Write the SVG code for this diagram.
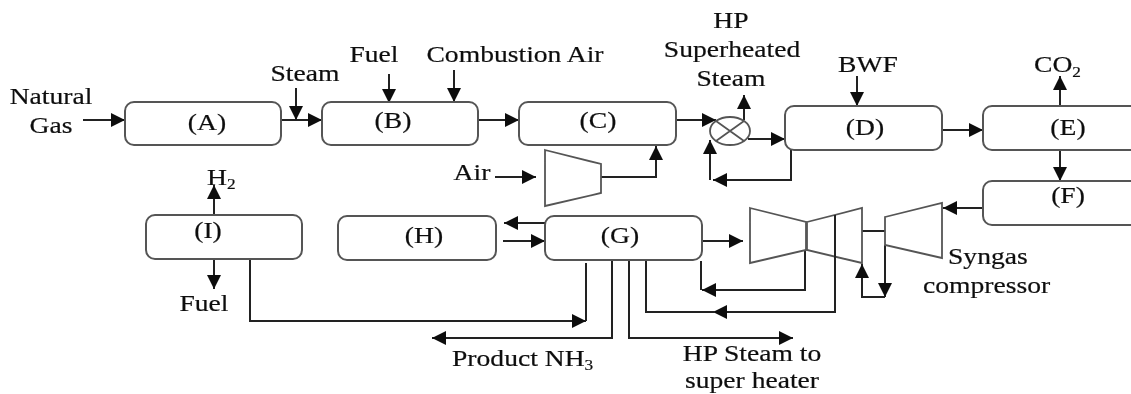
<svg xmlns="http://www.w3.org/2000/svg" width="1131" height="394" viewBox="0 0 1131 394">
<style>
.box{fill:#fff;stroke:#555;stroke-width:2}
.eq{fill:#fff;stroke:#555;stroke-width:1.8}
.c{fill:none;stroke:#222;stroke-width:2}
.a{fill:none;stroke:#222;stroke-width:2;marker-end:url(#ah)}
.t{font-family:"Liberation Serif","Times New Roman",serif;font-size:24px;fill:#111;stroke:#111;stroke-width:0.2;text-anchor:middle}
.l{text-anchor:start}
.s{font-size:15px}
.soft{filter:url(#soft)}
</style>
<defs>
<marker id="ah" markerUnits="userSpaceOnUse" markerWidth="16" markerHeight="16" refX="14" refY="8" orient="auto">
<path d="M0 1L14 8L0 15Z" fill="#111"/>
</marker>
<filter id="soft" x="0" y="0" width="1131" height="394" filterUnits="userSpaceOnUse"><feGaussianBlur stdDeviation="0.45"/></filter>
</defs>
<g class="soft">
<g id="connectors">
<path class="a" d="M83 120H125"/>
<path class="a" d="M281 120H322"/>
<path class="a" d="M296 88V120"/>
<path class="a" d="M389 74V103"/>
<path class="a" d="M454 70V102"/>
<path class="a" d="M478 120H519"/>
<path class="a" d="M676 120H716"/>
<path class="a" d="M495 177H536"/>
<path class="a" d="M601 177H656V146"/>
<path class="a" d="M744 120V95"/>
<path class="a" d="M748 139H785"/>
<path class="c" d="M791 150V180H713"/>
<path class="a" d="M725 180H713"/>
<path class="a" d="M710 180V140"/>
<path class="a" d="M857 76V106"/>
<path class="a" d="M942 130H983"/>
<path class="a" d="M1060 106V76"/>
<path class="a" d="M1060 150V181"/>
<path class="a" d="M983 208H943"/>
<path class="a" d="M214 214V185"/>
<path class="a" d="M214 259V289"/>
<path class="a" d="M545 223H504"/>
<path class="a" d="M503 241H545"/>
<path class="a" d="M245 259H250V321H586"/>
<path class="c" d="M586 263V321"/>
<path class="a" d="M612 257V338H432"/>
<path class="a" d="M625 258H629V338H793"/>
<path class="a" d="M702 241H743"/>
<path class="a" d="M805 250V290H702"/>
<path class="c" d="M701 261V290"/>
<path class="a" d="M835 215V312H713"/>
<path class="c" d="M646 260V312H715"/>
<path class="c" d="M862 231H885"/>
<path class="a" d="M885 245V297"/>
<path class="a" d="M885 297H862V264"/>
</g>
<g id="A"><rect class="box" x="125" y="102" width="156" height="43" rx="9"/><text class="t" transform="translate(207 130) scale(1.15 1)">(A)</text></g>
<g id="B"><rect class="box" x="322" y="102" width="156" height="43" rx="9"/><text class="t" transform="translate(393 128) scale(1.15 1)">(B)</text></g>
<g id="C"><rect class="box" x="519" y="102" width="157" height="43" rx="9"/><text class="t" transform="translate(598 128) scale(1.15 1)">(C)</text></g>
<g id="D"><rect class="box" x="785" y="106" width="157" height="44" rx="9"/><text class="t" transform="translate(865 135) scale(1.15 1)">(D)</text></g>
<g id="E"><path class="box" d="M1131 106H992a9 9 0 0 0 -9 9V141a9 9 0 0 0 9 9H1131"/><text class="t" transform="translate(1068 135) scale(1.15 1)">(E)</text></g>
<g id="F"><path class="box" d="M1131 181H992a9 9 0 0 0 -9 9V216a9 9 0 0 0 9 9H1131"/><text class="t" transform="translate(1068 203) scale(1.15 1)">(F)</text></g>
<g id="G"><rect class="box" x="545" y="216" width="157" height="44" rx="9"/><text class="t" transform="translate(620 243) scale(1.15 1)">(G)</text></g>
<g id="H"><rect class="box" x="338" y="216" width="158" height="44" rx="9"/><text class="t" transform="translate(424 243) scale(1.15 1)">(H)</text></g>
<g id="I"><rect class="box" x="146" y="215" width="156" height="44" rx="9"/><text class="t" transform="translate(208 238) scale(1.15 1)">(I)</text></g>
<g id="mixer">
<ellipse class="eq" cx="730" cy="131" rx="20" ry="14"/>
<path class="eq" d="M716 121L744 141M744 121L716 141"/>
</g>
<g id="air-compressor"><path class="eq" d="M545 150L601 164V193L545 206Z"/></g>
<g id="turbine-1"><path class="eq" d="M750 208L806 222V250L750 263Z"/></g>
<g id="turbine-2"><path class="eq" d="M807 222L862 208V263L807 250Z"/></g>
<g id="syngas-compressor"><path class="eq" d="M885 217L942 203V258L885 245Z"/></g>
<path class="c" d="M835 215V258"/>
<g id="labels">
<text class="t" transform="translate(51 104) scale(1.15 1)">Natural</text>
<text class="t" transform="translate(51 133) scale(1.15 1)">Gas</text>
<text class="t" transform="translate(305 81) scale(1.15 1)">Steam</text>
<text class="t" transform="translate(374 62) scale(1.15 1)">Fuel</text>
<text class="t" transform="translate(515 62) scale(1.15 1)">Combustion Air</text>
<text class="t" transform="translate(731 28) scale(1.15 1)">HP</text>
<text class="t" transform="translate(732 57) scale(1.15 1)">Superheated</text>
<text class="t" transform="translate(731 86) scale(1.15 1)">Steam</text>
<text class="t" transform="translate(868 72) scale(1.15 1)">BWF</text>
<text class="t l" transform="translate(1034 72) scale(1.15 1)">CO<tspan class="s" dy="5">2</tspan></text>
<text class="t" transform="translate(472 180) scale(1.15 1)">Air</text>
<text class="t l" transform="translate(207 185) scale(1.15 1)">H<tspan class="s" dy="4">2</tspan></text>
<text class="t" transform="translate(204 311) scale(1.15 1)">Fuel</text>
<text class="t l" transform="translate(452 366) scale(1.15 1)">Product NH<tspan class="s" dy="4">3</tspan></text>
<text class="t" transform="translate(752 361) scale(1.15 1)">HP Steam to</text>
<text class="t" transform="translate(752 388) scale(1.15 1)">super heater</text>
<text class="t l" transform="translate(948 264) scale(1.15 1)">Syngas</text>
<text class="t l" transform="translate(923 293) scale(1.15 1)">compressor</text>
</g>
</g>
</svg>
